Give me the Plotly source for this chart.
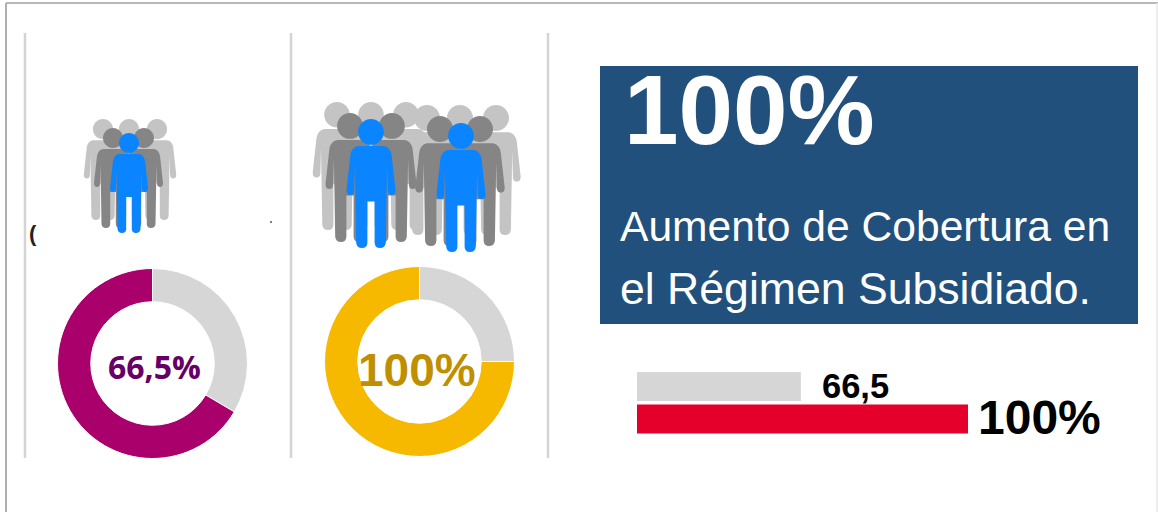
import plotly.graph_objects as go

# donuts (share of each slice, clockwise from 12 o'clock)
donut_labels = ['Resto', 'Cobertura']
donut_left = [33.5, 66.5]
donut_right = [25, 75]
donut_left_text = '66,5%'
donut_right_text = '100%'

# bars at the bottom right, as long as they are drawn in the picture
bar_names = ['2', '1']
bar_values = [100, 49.5]
bar_text = ['100%', '66,5']

panel_big = '100%'
panel_line1 = 'Aumento de Cobertura en'
panel_line2 = 'el Régimen Subsidiado.'

W, H = 1158, 512
GREY = '#D6D6D6'


def person(cx, top, h, color):
    # one figure, cx is the middle, top the top of the head, h the full height
    s = h / 100
    x = lambda v: round(cx + v * s, 1)
    y = lambda v: round(top + v * s, 1)
    r, k = 10, 5.5
    head = (f'M {x(-r)} {y(r)} C {x(-r)} {y(r-k)} {x(-k)} {y(0)} {x(0)} {y(0)} '
            f'C {x(k)} {y(0)} {x(r)} {y(r-k)} {x(r)} {y(r)} '
            f'C {x(r)} {y(r+k)} {x(k)} {y(2*r)} {x(0)} {y(2*r)} '
            f'C {x(-k)} {y(2*r)} {x(-r)} {y(r+k)} {x(-r)} {y(r)} Z ')
    body = (f'M {x(-10)} {y(21)} L {x(10)} {y(21)} Q {x(15)} {y(22)} {x(16)} {y(28)} '
            f'L {x(19)} {y(55)} Q {x(19)} {y(59)} {x(16)} {y(59)} Q {x(13)} {y(59)} {x(13)} {y(55)} '
            f'L {x(12.5)} {y(36)} L {x(11.5)} {y(96)} Q {x(11)} {y(100)} {x(7)} {y(100)} '
            f'Q {x(3)} {y(100)} {x(2.8)} {y(96)} L {x(2.8)} {y(64)} L {x(-2.8)} {y(64)} L {x(-2.8)} {y(96)} '
            f'Q {x(-3)} {y(100)} {x(-7)} {y(100)} Q {x(-11)} {y(100)} {x(-11.5)} {y(96)} '
            f'L {x(-12.5)} {y(36)} L {x(-13)} {y(55)} Q {x(-13)} {y(59)} {x(-16)} {y(59)} '
            f'Q {x(-19)} {y(59)} {x(-19)} {y(55)} L {x(-16)} {y(28)} Q {x(-15)} {y(22)} {x(-10)} {y(21)} Z')
    return dict(type='path', path=head + body, xref='x', yref='y',
                fillcolor=color, line=dict(width=0), layer='above')


def line(x0, y0, x1, y1, color, width):
    return dict(type='line', x0=x0, y0=y0, x1=x1, y1=y1, xref='x', yref='y',
                line=dict(color=color, width=width))


def label(text, x, y, size, color, family='Liberation Sans', bold=False, anchor='center'):
    if bold:
        text = f'<b>{text}</b>'
    return dict(text=text, x=x, y=y, xref='x', yref='y', showarrow=False,
                xanchor=anchor, yanchor='middle',
                font=dict(size=size, color=color, family=family))


LIGHT, MID, BLUE = '#C4C4C4', '#858585', '#0A84FF'

shapes = [
    line(6, 3, 6, H, '#B0B0B0', 2),
    line(6, 3, W, 3, '#B8B8B8', 2),
    line(1157, 3, 1157, H, '#E8E8E8', 1.5),
    line(25, 33, 25, 458, '#D4D4D4', 2.5),
    line(291, 33, 291, 458, '#D4D4D4', 2.5),
    line(548, 33, 548, 458, '#D4D4D4', 2.5),
    dict(type='rect', x0=600, y0=66, x1=1138, y1=324, xref='x', yref='y',
         fillcolor='#21507C', line=dict(width=0), layer='below'),
    # small group
    person(103, 119, 101, LIGHT), person(129, 119, 101, LIGHT), person(157, 119, 101, LIGHT),
    person(113, 128, 100, MID), person(144, 128, 100, MID),
    person(129, 133, 100, BLUE),
    # large group, left half
    person(337, 102, 128, LIGHT), person(371, 102, 128, LIGHT), person(406, 102, 128, LIGHT),
    # large group, right half
    person(427, 105, 130, LIGHT), person(460, 105, 130, LIGHT), person(496, 105, 130, LIGHT),
    person(350, 113, 129, MID), person(392, 113, 129, MID),
    person(440, 116, 130, MID), person(480, 116, 130, MID),
    person(371, 119, 129, BLUE),
    person(461, 123, 129, BLUE),
    # specks left over in the picture
    dict(type='circle', x0=270, y0=221, x1=272, y1=223, xref='x', yref='y',
         fillcolor='#555555', line=dict(width=0)),
]

annotations = [
    label('(', 33, 233, 22, '#222222', bold=True),
    label(donut_left_text, 154.5, 366, 32, '#660066', 'Open Sans', True),
    label(donut_right_text, 417, 370, 46, '#BF8F00', 'Liberation Sans', True),
    label(panel_big, 622, 110, 98, '#FFFFFF', 'Liberation Sans', True, anchor='left'),
    label(panel_line1, 618, 226, 42.6, '#FFFFFF', anchor='left'),
    label(panel_line2, 618, 288, 44.6, '#FFFFFF', anchor='left'),
    label(bar_text[1], 820, 386, 34.5, '#000000', 'Liberation Sans', True, anchor='left'),
    label(bar_text[0], 976, 417, 48, '#000000', bold=True, anchor='left'),
]

fig = go.Figure()

# invisible trace so the pixel axes stay in place
fig.add_trace(go.Scatter(x=[0, W], y=[0, H], mode='markers', marker=dict(opacity=0),
                         hoverinfo='skip', showlegend=False))

fig.add_trace(go.Pie(
    labels=donut_labels, values=donut_left, hole=0.65, sort=False, direction='clockwise',
    rotation=0, textinfo='none', showlegend=False,
    marker=dict(colors=[GREY, '#A9006C'], line=dict(color='#FFFFFF', width=1)),
    domain=dict(x=[57.5 / W, 247.5 / W], y=[1 - 458.5 / H, 1 - 268.5 / H]),
))
fig.add_trace(go.Pie(
    labels=donut_labels, values=donut_right, hole=0.65, sort=False, direction='clockwise',
    rotation=0, textinfo='none', showlegend=False,
    marker=dict(colors=[GREY, '#F6B900'], line=dict(color='#FFFFFF', width=1)),
    domain=dict(x=[324.5 / W, 514.5 / W], y=[1 - 456.5 / H, 1 - 266.5 / H]),
))

fig.add_trace(go.Bar(
    x=bar_values, y=bar_names, orientation='h', xaxis='x2', yaxis='y2',
    marker=dict(color=['#E4002B', GREY], line=dict(width=0)),
    hoverinfo='skip', showlegend=False,
))

fig.update_layout(
    width=W, height=H,
    margin=dict(l=0, r=0, t=0, b=0),
    paper_bgcolor='#FFFFFF', plot_bgcolor='rgba(0,0,0,0)',
    showlegend=False, bargap=0.108,
    xaxis=dict(range=[0, W], domain=[0, 1], visible=False, fixedrange=True),
    yaxis=dict(range=[H, 0], domain=[0, 1], visible=False, fixedrange=True),
    xaxis2=dict(range=[0, 100], domain=[637 / W, 968 / W], anchor='y2', visible=False, fixedrange=True),
    yaxis2=dict(domain=[1 - 435.2 / H, 1 - 370.2 / H], anchor='x2', visible=False, fixedrange=True),
    shapes=shapes,
    annotations=annotations,
)

fig.write_html("out.html", post_script="document.body.style.margin='0';",
               config=dict(displayModeBar=False))
